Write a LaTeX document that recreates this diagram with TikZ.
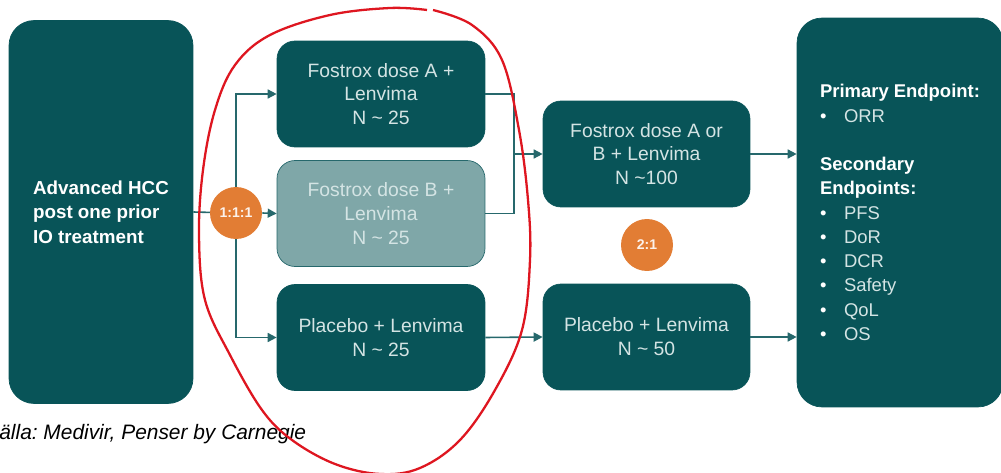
\documentclass[tikz,border=0pt]{standalone}
\usepackage{fontspec}
\setmainfont{Liberation Sans}
\usetikzlibrary{arrows.meta}
\frenchspacing

\definecolor{hccdark}{RGB}{8,84,88}
\definecolor{hcclight}{RGB}{127,167,168}
\definecolor{hccline}{RGB}{38,104,108}
\definecolor{hccorange}{RGB}{226,125,52}
\definecolor{hcctext}{RGB}{212,228,228}
\definecolor{penred}{RGB}{222,22,32}

\tikzset{
    armbox/.style={draw=hccdark, fill=hccdark, rounded corners=0.36cm, text=hcctext,
        align=center, minimum width=4.16cm, minimum height=2.12cm,
        font=\fontsize{11}{13.6}\selectfont},
    tallbox/.style={draw=hccdark, fill=hccdark, rounded corners=0.5cm, text=white,
        align=left, font=\fontsize{10.7}{13.9}\selectfont\bfseries},
    ratio/.style={circle, fill=hccorange, minimum size=1.04cm, inner sep=0pt,
        text=white!90!hccorange, font=\fontsize{8}{9}\selectfont\bfseries},
    link/.style={hccline, line width=0.9pt, -{Triangle[length=0.18cm,width=0.18cm]}}
}

\begin{document}
\begin{tikzpicture}[x=0.02cm, y=-0.02cm]
    \useasboundingbox (0,0) rectangle (1001,473);

    % population
    \node[tallbox, minimum width=3.68cm, minimum height=7.66cm] (hcc) at (101,212)
        {Advanced HCC\\post one prior\\IO treatment};

    % first part, three arms
    \node[armbox] (armA) at (381,94) {Fostrox dose A +\\Lenvima\\N \char`~\ 25};
    \node[armbox, fill=hcclight, draw=hccline] (armB) at (381,213.5)
        {Fostrox dose B +\\Lenvima\\N \char`~\ 25};
    \node[armbox] (armC) at (381,337.5) {Placebo + Lenvima\\N \char`~\ 25};

    % second part
    \node[armbox, minimum width=4.14cm] (armD) at (646.5,154)
        {Fostrox dose A or\\B + Lenvima\\N \char`~100};
    \node[armbox, minimum width=4.14cm] (armE) at (646.5,337)
        {Placebo + Lenvima\\N \char`~\ 50};

    % endpoints
    \node[tallbox, minimum width=4.12cm, minimum height=7.78cm,
          font=\fontsize{10.5}{13.8}\selectfont] (endp) at (900,212.5)
        {\textbf{Primary Endpoint:}\\
         \makebox[0.48cm][l]{\textbullet}\textcolor{hcctext}{ORR}\\[13.8pt]
         \textbf{Secondary}\\
         \textbf{Endpoints:}\\
         \makebox[0.48cm][l]{\textbullet}\textcolor{hcctext}{PFS}\\
         \makebox[0.48cm][l]{\textbullet}\textcolor{hcctext}{DoR}\\
         \makebox[0.48cm][l]{\textbullet}\textcolor{hcctext}{DCR}\\
         \makebox[0.48cm][l]{\textbullet}\textcolor{hcctext}{Safety}\\
         \makebox[0.48cm][l]{\textbullet}\textcolor{hcctext}{QoL}\\
         \makebox[0.48cm][l]{\textbullet}\textcolor{hcctext}{OS}};

    % randomisation
    \draw[hccline, line width=0.9pt] (hcc.east) -- (236,213);
    \draw[link] (236,213) |- (armA.west);
    \draw[link] (236,213) |- (armC.west);
    \node[ratio] (rand1) at (236,213) {1:1:1};
    \draw[link] (rand1.east) -- (armB.west);

    \coordinate (merge) at (514,154);
    \draw[hccline, line width=0.9pt] (armA.east) -| (merge);
    \draw[hccline, line width=0.9pt] (armB.east) -| (merge);
    \draw[link] (merge) -- (armD.west);
    \draw[link] (armC.east) -- (armE.west);
    \draw[link] (armD.east) -- (endp.west |- armD.east);
    \draw[link] (armE.east) -- (endp.west |- armE.east);

    \node[ratio] (rand2) at (647,245) {2:1};

    \node[anchor=base west, inner sep=0pt, font=\fontsize{11.9}{14}\selectfont\itshape]
        (source) at (-1,439) {älla: Medivir, Penser by Carnegie};

    % hand drawn ring
    \draw[penred, line width=1.3pt] plot[smooth, tension=0.6] coordinates {
        (433,10) (472,25) (502,60) (519,130) (528,200) (530,260) (522,330)
        (495,390) (460,440) (420,468) (380,474) (335,464) (292,440) (262,410)
        (230,355) (205,300) (199,235) (203,170) (215,110) (235,65) (270,35)
        (330,15) (390,8) (427,10)};
\end{tikzpicture}
\end{document}
